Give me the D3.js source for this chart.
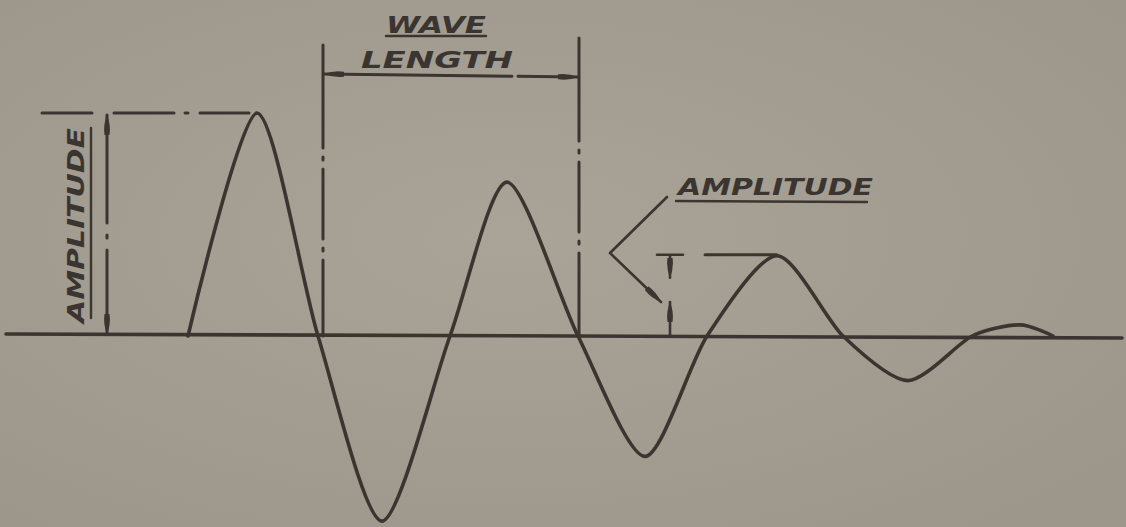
<!DOCTYPE html>
<meta charset="utf-8">
<head>
  <script src="https://cdn.jsdelivr.net/npm/d3@7"></script>
  <style>
    html, body { margin: 0; padding: 0; background: #a29b8f; }
    svg { display: block; }
    .ink { stroke: #3b3531; fill: none; stroke-linecap: round; stroke-linejoin: round; }
    .label { fill: #3b3531; font-family: "DejaVu Sans", sans-serif; font-style: italic; font-weight: bold; font-size: 23px; }
  </style>
</head>
<body>
<div id="viz"></div>
<script>
  // damped wave: extrema and zero crossings
  var waveT = [188, 257, 318, 382, 450, 507, 578, 645, 707, 777, 843, 908, 972, 1020, 1053];
  var waveA = [0, 1.0, 0, -0.83, 0, 0.69, 0, -0.54, 0, 0.36, 0, -0.20, 0, 0.05, 0];

  // wave length bracket (between two crossings) and the labels
  var waveLengthFrom = 323, waveLengthTo = 579;
  var labels = ["WAVE", "LENGTH", "AMPLITUDE"];

  var width = 1126, height = 527;

  var svg = d3.select("#viz").append("svg")
    .attr("width", width)
    .attr("height", height);

  // faint paper shading
  var grad = svg.append("defs").append("radialGradient").attr("id", "paper")
    .attr("cx", "45%").attr("cy", "45%").attr("r", "70%");
  grad.append("stop").attr("offset", "0%").attr("stop-color", "#aaa397");
  grad.append("stop").attr("offset", "100%").attr("stop-color", "#9d968a");
  svg.append("rect").attr("width", width).attr("height", height).attr("fill", "url(#paper)");

  // arrowhead marker, long and thin like the hand-drawn ones
  svg.select("defs").append("marker")
    .attr("id", "arrow")
    .attr("viewBox", "0 0 20 8")
    .attr("refX", 20).attr("refY", 4)
    .attr("markerWidth", 20).attr("markerHeight", 8)
    .attr("markerUnits", "userSpaceOnUse")
    .attr("orient", "auto-start-reverse")
    .append("path")
    .attr("d", "M0,1.5 Q10,0 20,4 Q10,8 0,6.5 Z")
    .attr("fill", "#3b3531");

  var x = d3.scaleLinear().domain([0, width]).range([0, width]);
  var y = d3.scaleLinear().domain([-1, 1]).range([559, 113]);

  var g = svg.append("g");

  // baseline
  g.append("line").attr("class", "ink")
    .attr("x1", x(6)).attr("x2", x(1122))
    .attr("y1", y(0) - 2).attr("y2", y(0) + 2)
    .attr("stroke-width", 3.6);

  // the wave: hand drawn, so flanks are almost straight
  var line = d3.line()
    .x(function(d, i) { return x(waveT[i]); })
    .y(function(d) { return y(d); })
    .curve(d3.curveCardinal.tension(0.22));

  g.append("path").attr("class", "ink")
    .attr("d", line(waveA))
    .attr("stroke-width", 3.6);

  var dashDot = "70 9 3 9";

  // left amplitude: extension line at first peak
  g.append("line").attr("class", "ink")
    .attr("x1", 42).attr("x2", x(waveT[1]) - 8)
    .attr("y1", y(waveA[1])).attr("y2", y(waveA[1]))
    .attr("stroke-width", 3)
    .attr("stroke-dasharray", "50 22 60 11 3 12 60");

  // left amplitude: dimension line with arrows
  g.append("line").attr("class", "ink")
    .attr("x1", 107).attr("x2", 107)
    .attr("y1", y(waveA[1]) + 2).attr("y2", y(0) - 2)
    .attr("stroke-width", 3)
    .attr("stroke-dasharray", "108 12 3 12 200")
    .attr("marker-start", "url(#arrow)")
    .attr("marker-end", "url(#arrow)");

  // rotated AMPLITUDE label with underline
  g.append("text").attr("class", "label")
    .attr("transform", "translate(84,323) rotate(-90)")
    .attr("textLength", 195).attr("lengthAdjust", "spacingAndGlyphs")
    .text(labels[2]);
  g.append("line").attr("class", "ink")
    .attr("x1", 91).attr("x2", 91).attr("y1", 128).attr("y2", 318)
    .attr("stroke-width", 2.4);

  // wave length: extension lines
  [[waveLengthFrom, 45], [waveLengthTo, 38]].forEach(function(p) {
    g.append("line").attr("class", "ink")
      .attr("x1", x(p[0])).attr("x2", x(p[0]))
      .attr("y1", p[1]).attr("y2", y(0))
      .attr("stroke-width", 3)
      .attr("stroke-dasharray", "103 9 3 9 " + dashDot);
  });

  // wave length: dimension line
  g.append("line").attr("class", "ink")
    .attr("x1", x(waveLengthFrom) + 1).attr("x2", x(waveLengthTo) - 1)
    .attr("y1", 74).attr("y2", 77)
    .attr("stroke-width", 3)
    .attr("stroke-dasharray", "188 6 400")
    .attr("marker-start", "url(#arrow)")
    .attr("marker-end", "url(#arrow)");

  g.append("text").attr("class", "label")
    .attr("x", 386).attr("y", 33)
    .attr("textLength", 100).attr("lengthAdjust", "spacingAndGlyphs")
    .text(labels[0]);
  g.append("line").attr("class", "ink")
    .attr("x1", 386).attr("x2", 486).attr("y1", 36).attr("y2", 36)
    .attr("stroke-width", 2.4);

  g.append("text").attr("class", "label")
    .attr("x", 361).attr("y", 68)
    .attr("textLength", 152).attr("lengthAdjust", "spacingAndGlyphs")
    .text(labels[1]);

  // right amplitude label + leader
  g.append("text").attr("class", "label")
    .attr("x", 678).attr("y", 195)
    .attr("textLength", 195).attr("lengthAdjust", "spacingAndGlyphs")
    .text(labels[2]);
  g.append("line").attr("class", "ink")
    .attr("x1", 676).attr("x2", 867).attr("y1", 201).attr("y2", 202)
    .attr("stroke-width", 2.4);

  g.append("polyline").attr("class", "ink")
    .attr("points", "667,197 610,253 661,302")
    .attr("stroke-width", 2.6)
    .attr("marker-end", "url(#arrow)");

  // small amplitude dimension at third peak
  var pk3 = y(waveA[9]);
  g.append("line").attr("class", "ink")
    .attr("x1", 657).attr("x2", 683).attr("y1", pk3 - 1).attr("y2", pk3 - 1)
    .attr("stroke-width", 2.6);
  g.append("line").attr("class", "ink")
    .attr("x1", 705).attr("x2", x(waveT[9])).attr("y1", pk3 - 1).attr("y2", pk3 - 1)
    .attr("stroke-width", 3);
  g.append("line").attr("class", "ink")
    .attr("x1", 670).attr("x2", 670).attr("y1", pk3).attr("y2", pk3 + 22)
    .attr("stroke-width", 2.6)
    .attr("marker-end", "url(#arrow)");
  g.append("line").attr("class", "ink")
    .attr("x1", 670).attr("x2", 670).attr("y1", y(0)).attr("y2", y(0) - 34)
    .attr("stroke-width", 2.6)
    .attr("marker-end", "url(#arrow)");
</script>
</body>
